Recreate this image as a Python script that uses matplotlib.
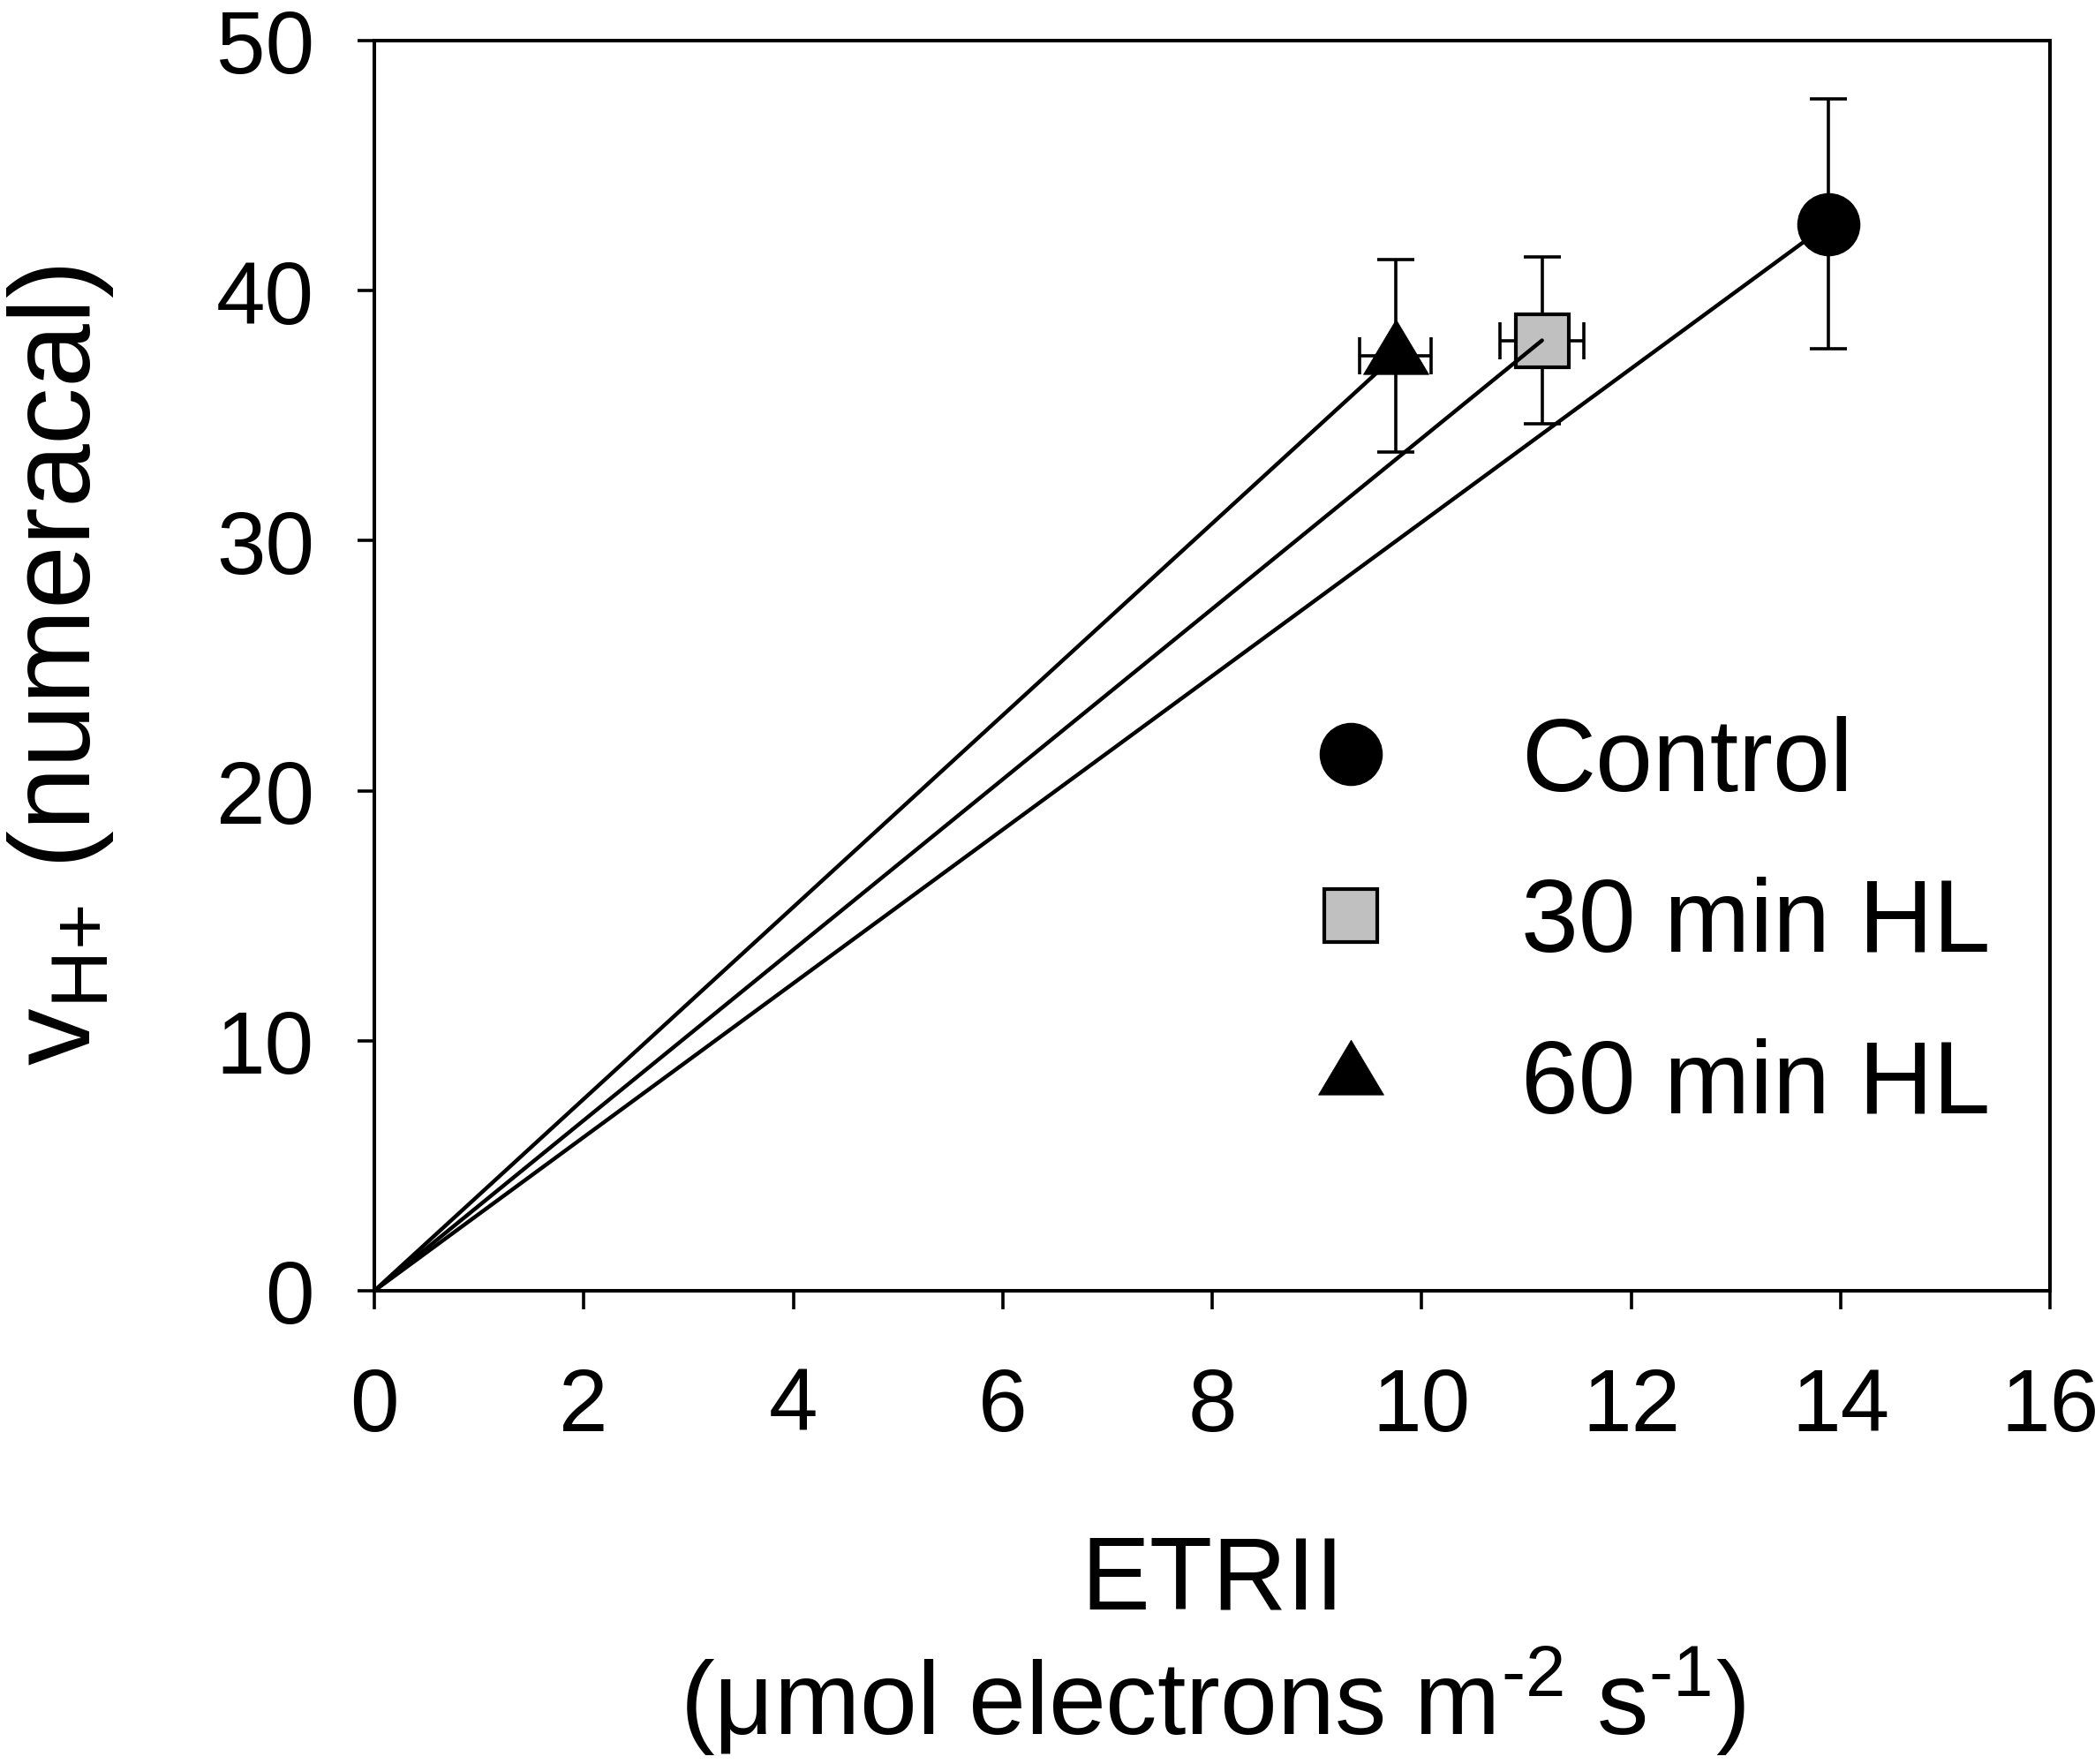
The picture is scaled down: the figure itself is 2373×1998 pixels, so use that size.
import matplotlib
matplotlib.use('Agg')
import matplotlib.pyplot as plt
import numpy as np

# ── Style ──
plt.rcParams.update({
    'font.family': ['Liberation Sans', 'DejaVu Sans'],
    'mathtext.fontset': 'custom',
    'mathtext.rm': 'Liberation Sans',
    'mathtext.it': 'Liberation Sans:italic',
    'mathtext.bf': 'Liberation Sans:bold',
    'axes.linewidth': 2.9,
})

# ── Data ──
groups = ['Control', '30 min HL', '60 min HL']
etr_x = [13.88, 11.15, 9.75]          # ETRII
etr_xerr = [0.0, 0.40, 0.34]
vh_y = [42.66, 38.01, 37.40]          # vH+
vh_yerr = [5.0, 3.33, 3.85]

x_ticks = [0, 2, 4, 6, 8, 10, 12, 14, 16]
y_ticks = [0, 10, 20, 30, 40, 50]

W, H = 2373, 1999
fig = plt.figure(figsize=(W / 100, H / 100), dpi=100)
ax = fig.add_axes([424 / W, 1 - 1463 / H, (2322 - 424) / W, (1463 - 47) / H])

# triangle marker centred on its centroid
tri = [(0, 41.3), (-37, -20.7), (37, -20.7), (0, 41.3)]
styles = [
    dict(marker='o', ms=50, mfc='black', mec='black', mew=1.5),
    dict(marker='s', ms=42.5, mfc='#c0c0c0', mec='black', mew=3.0),
    dict(marker=tri, ms=59.5, mfc='black', mec='black', mew=0.5),
]

handles = []
for i, name in enumerate(groups):
    xe = etr_xerr[i] if etr_xerr[i] > 0 else None
    ax.errorbar(etr_x[i], vh_y[i], yerr=vh_yerr[i], xerr=xe, fmt='none',
                ecolor='black', elinewidth=2.6, capsize=15, capthick=2.6,
                zorder=2)
    h, = ax.plot([etr_x[i]], [vh_y[i]], linestyle='none', label=name,
                 zorder=3, **styles[i])
    handles.append(h)
    # fit line through origin
    ax.plot([0, etr_x[i]], [0, vh_y[i]], color='black', lw=3.2,
            solid_capstyle='round', zorder=4)

ax.set_xlim(0, 16)
ax.set_ylim(0, 50)
ax.set_xticks(x_ticks)
ax.set_yticks(y_ticks)
ax.tick_params(axis='both', which='major', direction='out', width=2.6,
               labelsize=72, top=False, right=False)
ax.tick_params(axis='x', length=15, pad=46)
ax.tick_params(axis='y', length=14, pad=35)
for sp in ax.spines.values():
    sp.set_linewidth(2.9)
    sp.set_zorder(5)

ax.legend(handles=handles, loc='upper left', bbox_to_anchor=(0.5522, 0.4605),
          frameon=False, fontsize=84, handlelength=1.0, handletextpad=1.15,
          labelspacing=0.63, borderpad=0, borderaxespad=0)

# axis labels
fig.text(1373 / W, 1 - 1823 / H, 'ETRII', fontsize=84,
         ha='center', va='baseline')
fig.text(1373 / W, 1 - 1965 / H,
         '($\\mathregular{\\mu}$mol electrons m$^{\\mathregular{\u20102}}$'
         ' s$^{\\mathregular{\u20101}}$)',
         fontsize=84, ha='center', va='baseline')
fig.text(102 / W, 1 - 1207 / H, r'v$_{\mathregular{H{+}}}$ (numeracal)',
         fontsize=93, rotation=90, rotation_mode='anchor',
         ha='left', va='baseline')

fig.savefig('out.png', dpi=100, facecolor='white')
